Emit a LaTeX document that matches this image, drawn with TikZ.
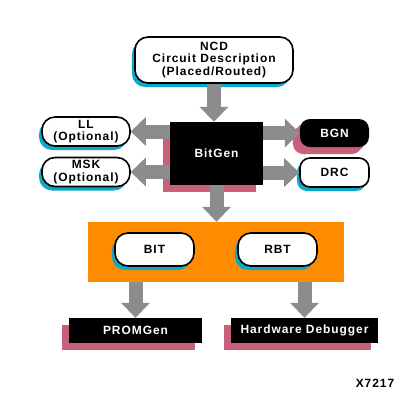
\documentclass[tikz,border=0pt]{standalone}
\usepackage{fontspec}
\setmainfont{Liberation Sans}[LetterSpace=8]
\usetikzlibrary{arrows.meta,shadows}
\definecolor{shcyan}{HTML}{10A8C8}
\definecolor{shpink}{HTML}{C8607A}
\definecolor{boxorange}{HTML}{FF8C00}
\definecolor{arrgray}{HTML}{8C8C8C}

\begin{document}
\begin{tikzpicture}[x=1bp,y=-1bp,
  every node/.style={font=\fontsize{12}{12.5}\selectfont\bfseries, align=center, inner sep=0pt},
  pill/.style={draw, line width=1.6bp, fill=white, rounded corners=13bp,
    drop shadow={shadow xshift=-3bp, shadow yshift=-4bp, fill=shcyan, opacity=1}},
  blk/.style={fill=black, text=white,
    drop shadow={shadow xshift=-7bp, shadow yshift=-7bp, fill=shpink, opacity=1}},
  bigarr/.style={draw=arrgray, line width=14bp, -{Triangle[width=28bp,length=15bp,fill=arrgray]}}]

\useasboundingbox (0,0) rectangle (416,409);

\node[pill, minimum width=158bp, minimum height=46bp] (ncd) at (214,60) {NCD\\Circuit Description\\(Placed/Routed)};

\node[blk, minimum width=93bp, minimum height=63bp] (bitgen) at (216.5,153.5) {BitGen};

\node[pill, minimum width=88bp, minimum height=29bp] (ll) at (86,131.5) {LL\\(Optional)};

\node[pill, minimum width=88bp, minimum height=29bp] (msk) at (86,172) {MSK\\(Optional)};

\node[blk, rounded corners=10bp, minimum width=69bp, minimum height=28bp,
  drop shadow={shadow xshift=-4bp, shadow yshift=-4bp, fill=shpink, opacity=1}] (bgn) at (334.5,133) {BGN};

\node[pill, rounded corners=10bp, minimum width=69bp, minimum height=29bp] (drc) at (334.5,172.5) {DRC};

\node[fill=boxorange, minimum width=256bp, minimum height=60bp] (out) at (216,252) {};

\node[pill, minimum width=79bp, minimum height=33bp] (bit) at (154.5,249.5) {BIT};

\node[pill, minimum width=79bp, minimum height=33bp] (rbt) at (277.5,249.5) {RBT};

\node[blk, minimum width=133bp, minimum height=25bp] (prom) at (135.5,330.5) {PROMGen};

\node[blk, minimum width=147bp, minimum height=25bp] (hw) at (304.5,330.5) {Hardware Debugger};

\node (tag) at (375,383) {X7217};


\draw[bigarr] (ncd.south) -- (ncd.south |- bitgen.north);
\draw[bigarr] (ll.east -| bitgen.west) -- (ll.east);
\draw[bigarr] (msk.east -| bitgen.west) -- (msk.east);
\draw[bigarr] (bgn.west -| bitgen.east) -- (bgn.west);
\draw[bigarr] (drc.west -| bitgen.east) -- (drc.west);
\draw[bigarr] (bitgen.south) -- (bitgen.south |- out.north);
\draw[bigarr] (prom.north |- out.south) -- (prom.north);
\draw[bigarr] (hw.north |- out.south) -- (hw.north);

\end{tikzpicture}
\end{document}
